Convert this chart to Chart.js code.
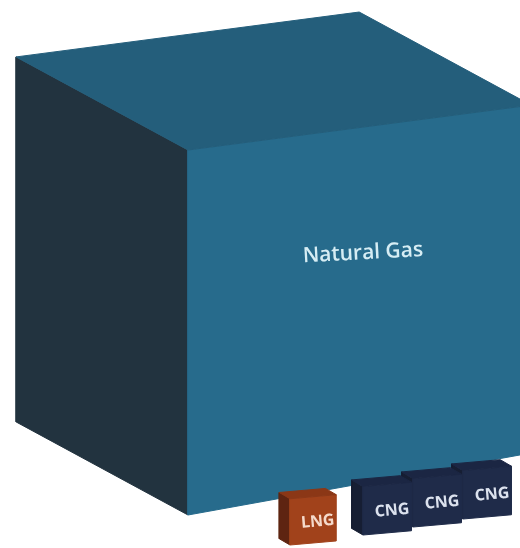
<!DOCTYPE html>
<html>
<head>
<meta charset="utf-8">
<style>
  html, body { margin: 0; padding: 0; background: #ffffff; }
  #wrap { width: 520px; height: 548px; position: relative; }
</style>
<script src="https://cdn.jsdelivr.net/npm/chart.js@4.4.1/dist/chart.umd.min.js"></script>
</head>
<body>
<div id="wrap"><canvas id="c" width="520" height="548"></canvas></div>
<script>
// Fuel forms shown as cubes; edge length relative to the natural gas cube
const products   = ['Natural Gas', 'LNG', 'CNG', 'CNG', 'CNG'];
const edgeLength = [1, 0.123, 0.129, 0.129, 0.129];

// ---- layout (drawing space 520 x 548 units, y grows downward) ----
const UNIT = 365;                        // drawing units per unit of edge length
const anchors = [                        // front-bottom corner of each cube
  [188, 515], [290, 545], [363, 535], [413, 527], [463, 519]
];
const views = {
  big:   { left: [-0.471, -0.255], right: [0.940, -0.170], up: [0, -1],    kL: 1, kR: 0.953,
           label: [0.51, 0.646], rot: -3, font: '600 21px "Open Sans"' },
  small: { left: [-0.240, -0.140], right: [1.030, -0.090], up: [0, -1.03], kL: 1, kR: 1,
           label: [0.60, 0.45], rot: -5, font: '700 16px "Open Sans"' }
};
const palette = {
  'Natural Gas': { left: '#22333f', front: '#276b8c', top: '#245e7b', text: '#d6edf4' },
  'LNG':         { left: '#5e2411', front: '#a1421b', top: '#8b3716', text: '#f5dacb' },
  'CNG':         { left: '#161e33', front: '#1f2b49', top: '#1b2643', text: '#dce2ee' }
};
// back-to-front painting order
const paintOrder = [0, 4, 3, 2, 1];

const add = (a, b) => [a[0] + b[0], a[1] + b[1]];
const sub = (a, b) => [a[0] - b[0], a[1] - b[1]];
const mul = (v, s) => [v[0] * s, v[1] * s];

function cubeCorners(i) {
  const view = i === 0 ? views.big : views.small;
  const s = edgeLength[i] * UNIT;
  const FB = anchors[i];
  const LB = add(FB, mul(view.left, s));
  const RB = add(FB, mul(view.right, s));
  const FT = add(FB, mul(view.up, s));
  const LT = add(LB, mul(view.up, s * view.kL));
  const RT = add(RB, mul(view.up, s * view.kR));
  const BT = add(LT, sub(RT, FT));
  return { FB, LB, RB, FT, LT, RT, BT, view };
}

const pts = arr => arr.concat([arr[0]]).map(p => ({ x: p[0], y: p[1] }));

const datasets = [];
paintOrder.forEach(i => {
  const c = cubeCorners(i);
  const col = palette[products[i]];
  const faces = [
    ['left',  [c.LB, c.FB, c.FT, c.LT]],
    ['front', [c.FB, c.RB, c.RT, c.FT]],
    ['top',   [c.LT, c.FT, c.RT, c.BT]]
  ];
  faces.forEach(([name, poly]) => {
    datasets.push({
      label: products[i] + ' ' + name,
      data: pts(poly),
      fill: 'shape',
      backgroundColor: col[name],
      borderColor: col[name],
      borderWidth: 1,
      pointRadius: 0,
      pointHoverRadius: 0,
      tension: 0
    });
  });
});
datasets.forEach((d, k) => { d.order = datasets.length - k; });

// cube captions, placed on each front face
const captionPlugin = {
  id: 'captions',
  afterDatasetsDraw(chart) {
    const { ctx, scales: { x, y } } = chart;
    paintOrder.forEach(i => {
      const c = cubeCorners(i);
      const [u, w] = c.view.label;
      const P = add(add(mul(c.FB, (1 - u) * (1 - w)), mul(c.RB, u * (1 - w))),
                    add(mul(c.FT, (1 - u) * w), mul(c.RT, u * w)));
      ctx.save();
      ctx.translate(x.getPixelForValue(P[0]), y.getPixelForValue(P[1]));
      ctx.rotate(c.view.rot * Math.PI / 180);
      ctx.font = c.view.font;
      ctx.fillStyle = palette[products[i]].text;
      ctx.textAlign = 'center';
      ctx.textBaseline = 'middle';
      ctx.fillText(products[i], 0, 0);
      ctx.restore();
    });
  }
};

new Chart(document.getElementById('c'), {
  type: 'line',
  data: { datasets },
  options: {
    responsive: false,
    animation: false,
    events: [],
    layout: { padding: 0 },
    scales: {
      x: { type: 'linear', min: 0, max: 520, bounds: 'data', display: false },
      y: { type: 'linear', min: 0, max: 548, bounds: 'data', reverse: true, display: false }
    },
    plugins: { legend: { display: false }, tooltip: { enabled: false } }
  },
  plugins: [captionPlugin]
});
</script>
</body>
</html>
